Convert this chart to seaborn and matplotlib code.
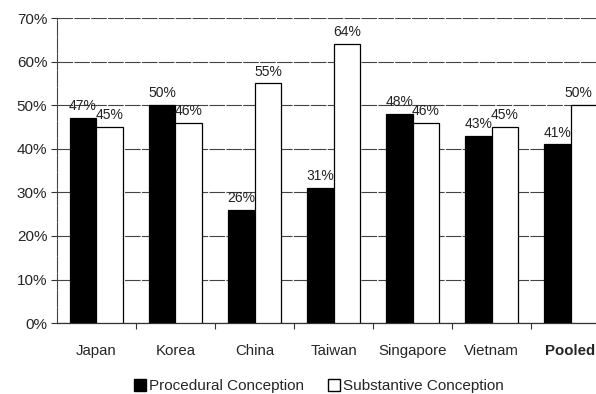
import pandas as pd
import matplotlib
matplotlib.use("Agg")
import matplotlib.pyplot as plt
import seaborn as sns
from matplotlib.ticker import PercentFormatter
from matplotlib.patches import Patch

countries = ["Japan", "Korea", "China", "Taiwan", "Singapore", "Vietnam", "Pooled"]
procedural = [47, 50, 26, 31, 48, 43, 41]
substantive = [45, 46, 55, 64, 46, 45, 50]
series_names = ["Procedural Conception", "Substantive Conception"]

df = pd.DataFrame({
    "country": countries * 2,
    "share": procedural + substantive,
    "conception": [series_names[0]] * len(countries) + [series_names[1]] * len(countries),
})

sns.set_style("white")
plt.rcParams["font.family"] = ["Liberation Sans", "DejaVu Sans"]

fig = plt.figure(figsize=(5.96, 3.94), dpi=100)
# the plot area runs past the right edge, like the cropped original
ax = fig.add_axes([0.0956, 0.180, 0.928, 0.774])

sns.barplot(data=df, x="country", y="share", hue="conception", order=countries,
            hue_order=series_names, palette=["black", "white"], width=0.68,
            edgecolor="black", linewidth=0.9, saturation=1, legend=False, ax=ax, zorder=3)

for cont in ax.containers:
    anns = ax.bar_label(cont, labels=[f"{v:.0f}%" for v in cont.datavalues], padding=3.5,
                        fontsize=10, color="#222222")
# keep the last label inside the picture
anns[-1].xyann = (-4, 3.5)

ax.set_ylim(0, 70)
ax.set_yticks(range(0, 71, 10))
ax.yaxis.set_major_formatter(PercentFormatter(decimals=0))
ax.set_xlim(-0.5, len(countries) - 0.5)
ax.set_xticks(range(len(countries)))
ax.set_xticks([i + 0.5 for i in range(len(countries) - 1)], minor=True)
ax.grid(axis="y", color="#444444", linestyle=(0, (14, 1.2)), linewidth=0.8, zorder=0)
ax.set_axisbelow(True)
ax.set_xlabel("")
ax.set_ylabel("")

for side in ["top", "right"]:
    ax.spines[side].set_visible(False)
ax.spines["left"].set_color("#444444")
ax.spines["left"].set_linestyle((0, (14, 1.2)))
ax.spines["left"].set_linewidth(0.8)
ax.spines["bottom"].set_color("#333333")
ax.spines["bottom"].set_linewidth(0.9)

ax.tick_params(axis="y", which="major", length=4, width=0.8, color="#333333",
               labelsize=11, pad=3, left=True)
ax.tick_params(axis="x", which="major", length=0, labelsize=10.8, pad=15)
ax.tick_params(axis="x", which="minor", length=4, width=0.8, color="#333333", bottom=True)
for lbl in ax.get_xticklabels():
    if lbl.get_text() == "Pooled":
        lbl.set_fontweight("bold")

handles = [Patch(facecolor="black", edgecolor="black"),
           Patch(facecolor="white", edgecolor="black")]
fig.legend(handles, series_names, loc="center", bbox_to_anchor=(0.535, 0.02), ncol=2,
           frameon=False, fontsize=11, handlelength=0.8, handleheight=0.8,
           handletextpad=0.15, columnspacing=1.6)

fig.savefig("out.png", dpi=100)
